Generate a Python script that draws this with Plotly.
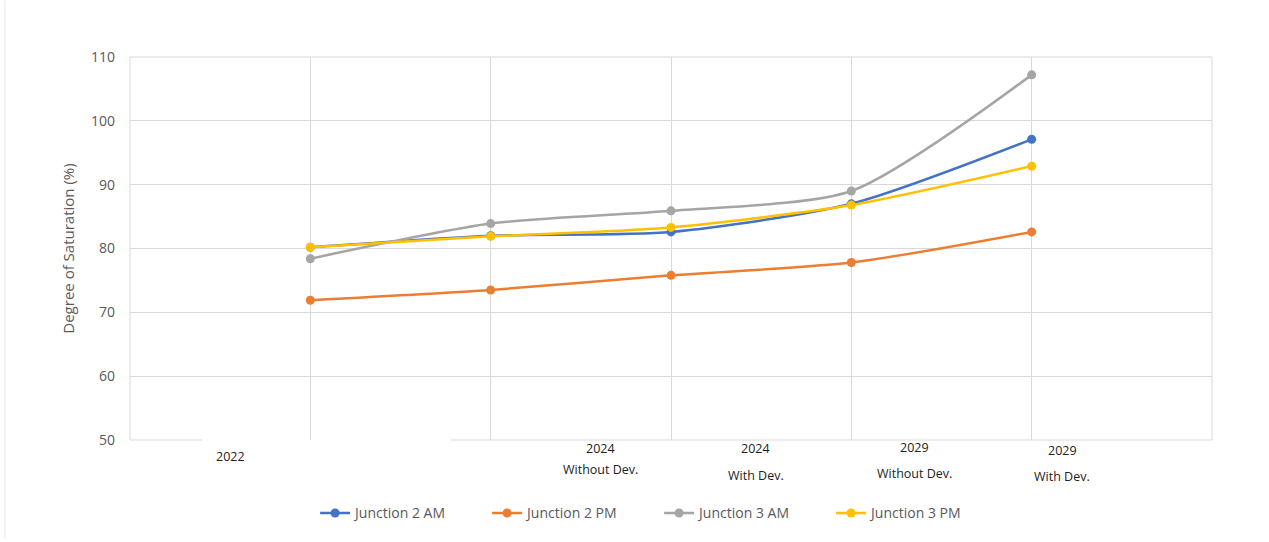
import plotly.graph_objects as go

# Scenario positions along the horizontal axis (1..5) and the series values (%)
scenario_pos = [1, 2, 3, 4, 5]
junction2_am = [80.2, 82.0, 82.6, 87.0, 97.1]
junction2_pm = [71.9, 73.5, 75.8, 77.8, 82.6]
junction3_am = [78.4, 83.9, 85.9, 89.0, 107.2]
junction3_pm = [80.2, 81.9, 83.3, 86.8, 92.9]

series_names = ["Junction 2 AM", "Junction 2 PM", "Junction 3 AM", "Junction 3 PM"]
series_values = [junction2_am, junction2_pm, junction3_am, junction3_pm]
series_colors = ["#4472C4", "#ED7D31", "#A5A5A5", "#FFC000"]

y_ticks = [50, 60, 70, 80, 90, 100, 110]

# Category labels: (year, scenario, x position, y pixel of year, y pixel of scenario)
x_labels = [
    ("2022", "", 0.555, 460, None),
    ("2024", "Without Dev.", 2.61, 452, 473),
    ("2024", "With Dev.", 3.47, 452, 479),
    ("2029", "Without Dev.", 4.35, 451, 477),
    ("2029", "With Dev.", 5.17, 454, 480),
]

W, H = 1269, 542
L, R, T, B = 130, 57, 57, 99
plot_h = H - T - B

fig = go.Figure()
for name, vals, col in zip(series_names, series_values, series_colors):
    fig.add_trace(go.Scatter(
        x=scenario_pos, y=vals, name=name, mode="lines+markers",
        line=dict(color=col, width=2.5, shape="spline", smoothing=0.7),
        marker=dict(color=col, size=9),
    ))

def py(pixel_y):
    return (H - B - pixel_y) / plot_h

annotations = []
for year, scen, xpos, ypx, spx in x_labels:
    annotations.append(dict(x=xpos, xref="x", y=py(ypx), yref="paper", text=year,
                            showarrow=False, font=dict(size=12.5, color="#222222"),
                            xanchor="center", yanchor="middle"))
    if scen:
        annotations.append(dict(x=xpos, xref="x", y=py(spx), yref="paper", text=scen,
                                showarrow=False, font=dict(size=12.5, color="#222222"),
                                xanchor="center", yanchor="middle"))

grid = "#d9d9d9"
shapes = [
    # plot frame (bottom edge interrupted under the first label)
    dict(type="line", xref="paper", yref="paper", x0=0, x1=0, y0=0, y1=1, line=dict(color=grid, width=1)),
    dict(type="line", xref="paper", yref="paper", x0=1, x1=1, y0=0, y1=1, line=dict(color=grid, width=1)),
    dict(type="line", xref="paper", yref="paper", x0=0, x1=1, y0=1, y1=1, line=dict(color=grid, width=1)),
    dict(type="line", xref="paper", yref="paper", x0=0, x1=(202 - L) / (W - L - R), y0=0, y1=0, line=dict(color=grid, width=1)),
    dict(type="line", xref="paper", yref="paper", x0=(451 - L) / (W - L - R), x1=1, y0=0, y1=0, line=dict(color=grid, width=1)),
    # outer chart border on the left
    dict(type="line", xref="paper", yref="paper", x0=(5 - L) / (W - L - R), x1=(5 - L) / (W - L - R),
         y0=py(0), y1=py(H), line=dict(color="#e6e6e6", width=1)),
]

fig.update_layout(
    width=W, height=H,
    margin=dict(l=L, r=R, t=T, b=B),
    paper_bgcolor="white", plot_bgcolor="white",
    font=dict(family="Open Sans, Noto Sans, sans-serif", color="#595959"),
    showlegend=True,
    legend=dict(orientation="h", x=0.489, xanchor="center", y=py(517), yanchor="middle",
                font=dict(size=14, color="#595959"), entrywidth=127, entrywidthmode="pixels",
                itemwidth=30, tracegroupgap=0),
    annotations=annotations,
    shapes=shapes,
    xaxis=dict(range=[0, 6], tickvals=scenario_pos, showticklabels=False, showgrid=True,
               gridcolor=grid, gridwidth=1, zeroline=False, showline=False, fixedrange=True),
    yaxis=dict(range=[50, 110], tickvals=y_ticks, showgrid=True, gridcolor=grid, gridwidth=1,
               zeroline=False, showline=False, tickfont=dict(size=14, color="#595959"),
               ticklabelstandoff=14,
               title=dict(text="Degree of Saturation (%)", font=dict(size=15, color="#595959"),
                          standoff=12)),
)

fig.write_html("out.html")
